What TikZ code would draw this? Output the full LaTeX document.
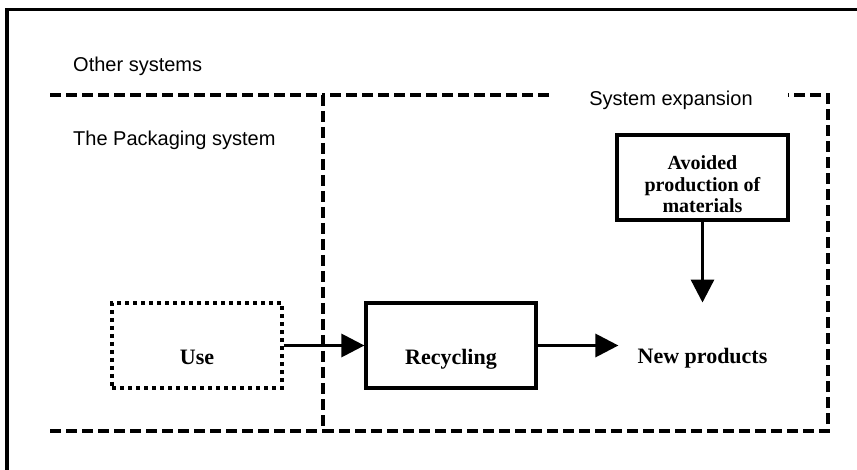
\documentclass[tikz,border=0pt]{standalone}
\usepackage{fontspec}
\setmainfont{Liberation Serif}
\newfontfamily\arialfont{Liberation Sans}
\usetikzlibrary{arrows.meta}

\begin{document}
\begin{tikzpicture}
[x=1pt, y=-1pt,
frame/.style={line width = 3.2pt},
boundary/.style={line width = 3.2pt, dash pattern = on 11pt off 5pt},
region/.style={font = \arialfont\fontsize{20}{24}\selectfont, inner sep = 0pt},
process/.style={draw, line width = 3.2pt, minimum width = 170pt, minimum height = 85pt, inner sep = 0pt, font = \fontsize{22}{26}\selectfont\bfseries, text height = 39pt, text depth = 0pt},
unit/.style={process, dash pattern = on 4pt off 4pt},
flow/.style={line width = 3.2pt, -{Triangle[length = 23pt, width = 23pt]}}]
\useasboundingbox (0,0) rectangle (857,470);
\draw[frame] (7,472) -- (7,9.5) -- (859,9.5);
% system boundaries
\draw[boundary] (50,95) -- (323,95);
\draw[boundary] (50,431) -- (323,431);
\draw[boundary] (323,95) rectangle (828,431);
\node[region, anchor=base west] (other) at (73,72) {Other systems};
\node[region, anchor=base west] (packaging) at (73,146) {The Packaging system};
\node[region, anchor=base, fill=white, inner xsep=35pt, inner ysep=3pt] (expansion) at (671,106) {System expansion};
% processes
\node[unit] (use) at (197,345.5) {Use};
\node[process] (recycling) at (451,345.5) {Recycling};
\node[process, minimum width = 171pt, align=center, font = \fontsize{20}{21.5}\selectfont\bfseries, text height = 71pt, text depth = 0pt] (avoided) at (702.5,177.5) {Avoided\\production of\\materials};
\node[inner sep = 0pt, anchor=base, font = \fontsize{22}{26}\selectfont\bfseries] (newprod) at (702.5,363) {New products};
% flows
\draw[flow] (use) -- (recycling);
\draw[flow, shorten >= 19pt] (recycling) -- (recycling -| newprod.west);
\draw[flow, shorten >= 45pt] (avoided) -- (avoided |- newprod.north);
\end{tikzpicture}
\end{document}
